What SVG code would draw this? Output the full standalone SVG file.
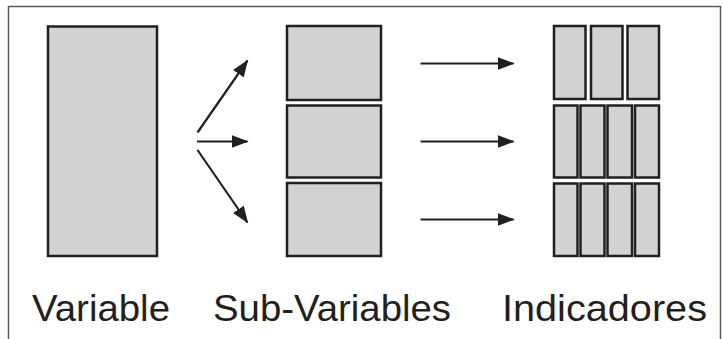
<svg xmlns="http://www.w3.org/2000/svg" width="723" height="339" viewBox="0 0 723 339">
<defs>
<style>
.box{fill:#d1d3d4;stroke:#231f20;stroke-width:2.5}
.frame{fill:none;stroke:#5a5a5a;stroke-width:1.5}
.conn{stroke:#231f20;stroke-width:2.2;fill:none}
.lbl{font-family:"Liberation Sans",Arial,sans-serif;font-size:37px;fill:#231f20}
</style>
<marker id="ah" markerWidth="17" markerHeight="13" refX="16" refY="6.5" orient="auto" markerUnits="userSpaceOnUse">
<path d="M0,0 L17,6.5 L0,13 Z" fill="#231f20"/>
</marker>
</defs>
<rect width="723" height="339" fill="#ffffff"/>
<path class="frame" d="M8.5,340 V6.5 H720.5 V340"/>
<g id="variable">
<rect class="box" x="48" y="26.5" width="109" height="229.5"/>
</g>
<g id="subvariables">
<rect class="box" x="287" y="26" width="94" height="74"/>
<rect class="box" x="287" y="105.5" width="94" height="72"/>
<rect class="box" x="287" y="183" width="94" height="73"/>
</g>
<g id="indicadores">
<rect class="box" x="554" y="26" width="31.5" height="73"/>
<rect class="box" x="591" y="26" width="31.5" height="73"/>
<rect class="box" x="627.5" y="26" width="31.5" height="73"/>
<rect class="box" x="554" y="105.5" width="23.5" height="72"/>
<rect class="box" x="580.5" y="105.5" width="24" height="72"/>
<rect class="box" x="607.5" y="105.5" width="24.5" height="72"/>
<rect class="box" x="635" y="105.5" width="24" height="72"/>
<rect class="box" x="554" y="183.5" width="23.5" height="72.5"/>
<rect class="box" x="580.5" y="183.5" width="24" height="72.5"/>
<rect class="box" x="607.5" y="183.5" width="24.5" height="72.5"/>
<rect class="box" x="635" y="183.5" width="24" height="72.5"/>
</g>
<g id="connectors">
<line class="conn" x1="197.5" y1="132.5" x2="247.5" y2="60.5" marker-end="url(#ah)"/>
<line class="conn" x1="197" y1="141.5" x2="247.5" y2="141.5" marker-end="url(#ah)"/>
<line class="conn" x1="197.5" y1="150" x2="247.5" y2="222.5" marker-end="url(#ah)"/>
<line class="conn" x1="420.5" y1="63.5" x2="513.5" y2="63.5" marker-end="url(#ah)"/>
<line class="conn" x1="420.5" y1="141.5" x2="513.5" y2="141.5" marker-end="url(#ah)"/>
<line class="conn" x1="420.5" y1="219.5" x2="513.5" y2="219.5" marker-end="url(#ah)"/>
</g>
<g id="labels">
<text class="lbl" x="32" y="321" textLength="138" lengthAdjust="spacingAndGlyphs">Variable</text>
<text class="lbl" x="213" y="321" textLength="238" lengthAdjust="spacingAndGlyphs">Sub-Variables</text>
<text class="lbl" x="502" y="321" textLength="205" lengthAdjust="spacingAndGlyphs">Indicadores</text>
</g>
</svg>
